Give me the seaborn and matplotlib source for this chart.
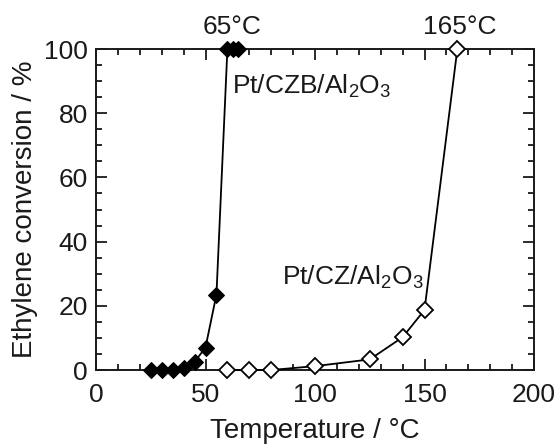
import matplotlib
matplotlib.use("Agg")
import matplotlib.pyplot as plt
import seaborn as sns
import pandas as pd

# Data
czb_temp = [25, 30, 35, 40, 45, 50, 55, 60, 62.5, 65]
czb_conv = [0, 0, 0, 0.5, 2.5, 7, 23.5, 100, 100, 100]
cz_temp = [60, 70, 80, 100, 125, 140, 150, 165]
cz_conv = [0, 0, 0, 1.2, 3.3, 10.2, 18.7, 100]
x_ticks = [0, 50, 100, 150, 200]
y_ticks = [0, 20, 40, 60, 80, 100]

sns.set_style("ticks")
plt.rcParams['font.family'] = ['Liberation Sans', 'DejaVu Sans']
plt.rcParams['mathtext.fontset'] = 'custom'
plt.rcParams['mathtext.rm'] = 'Liberation Sans'
plt.rcParams['mathtext.it'] = 'Liberation Sans'

fig = plt.figure(figsize=(5.58, 4.45), dpi=100)
ax = fig.add_axes([96/558, 1-370/445, (534-96)/558, (370-49)/445])

df1 = pd.DataFrame({"T": czb_temp, "C": czb_conv})
df2 = pd.DataFrame({"T": cz_temp, "C": cz_conv})

sns.lineplot(data=df1, x="T", y="C", ax=ax, color="black", lw=1.3,
             marker="D", markersize=8.5, markerfacecolor="black",
             markeredgecolor="black", clip_on=False, zorder=3)
sns.lineplot(data=df2, x="T", y="C", ax=ax, color="black", lw=1.3,
             marker="D", markersize=8.5, markerfacecolor="white",
             markeredgecolor="black", markeredgewidth=1.3, clip_on=False, zorder=3)

ax.set_xlim(0, 200)
ax.set_ylim(0, 100)
ax.set_xticks(x_ticks)
ax.set_yticks(y_ticks)
ax.set_xticks(range(0, 201, 10), minor=True)
ax.set_yticks(range(0, 101, 5), minor=True)
ax.tick_params(which="both", direction="in", top=True, right=True,
               width=1.3, colors="#1a1a1a", labelcolor="#1a1a1a")
ax.tick_params(which="major", length=8, labelsize=19, pad=6)
ax.tick_params(axis="x", which="major", pad=9)
ax.tick_params(which="minor", length=4)
for s in ax.spines.values():
    s.set_linewidth(1.4)
    s.set_color("#1a1a1a")

ax.set_xlabel("Temperature / °C", fontsize=20, color="#1a1a1a", labelpad=8)
ax.set_ylabel("Ethylene conversion / %", fontsize=20, color="#1a1a1a", labelpad=4)

ax.text(62, 103, "65°C", fontsize=19, ha="center", va="bottom", color="#1a1a1a")
ax.text(166, 103, "165°C", fontsize=19, ha="center", va="bottom", color="#1a1a1a")
ax.text(62, 88.5, "Pt/CZB/Al$_2$O$_3$", fontsize=19, ha="left", va="center", color="#1a1a1a")
ax.text(85, 29, "Pt/CZ/Al$_2$O$_3$", fontsize=19, ha="left", va="center", color="#1a1a1a")

fig.savefig("out.png", dpi=100)
